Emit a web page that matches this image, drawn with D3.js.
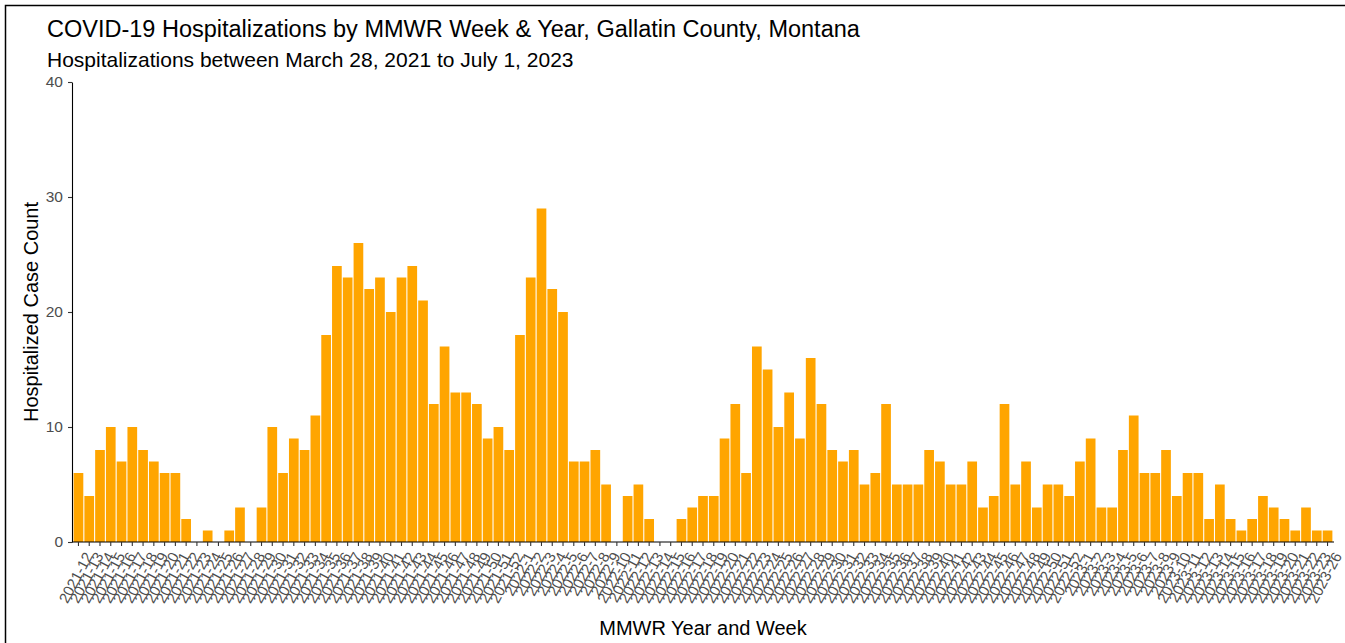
<!DOCTYPE html>
<html>
<head>
<meta charset="utf-8">
<title>COVID-19 Hospitalizations by MMWR Week & Year</title>
<script src="https://cdn.jsdelivr.net/npm/d3@7"></script>
<style>
  html, body { margin: 0; padding: 0; background: #fff; }
  svg { display: block; font-family: "Liberation Sans", Arial, sans-serif; }
</style>
</head>
<body>
<div id="chart"></div>
<script>
// MMWR weeks shown on the x axis
const weeks2021 = [12,13,14,15,16,17,18,19,20,21,22,23,24,25,26,27,28,29,30,31,32,33,34,35,36,37,38,39,40,41,42,43,44,45,46,47,48,49,50,51,52];
const weeks2022 = [1,2,3,4,5,6,7,8,9,10,11,12,13,14,15,16,17,18,19,20,21,22,23,24,25,26,27,28,29,30,31,32,33,34,35,36,37,38,39,40,41,42,43,44,45,46,47,48,49,50,51,52];
const weeks2023 = [1,2,3,4,5,6,7,8,9,10,11,12,13,14,15,16,17,18,19,20,21,22,23,26];

// hospitalized case counts, one per week
const counts = [
  6,4,8,10,7,10,8,7,6,6,2,0,1,0,1,3,0,3,10,6,9,8,11,18,
  24,23,26,22,23,20,23,24,21,12,17,13,13,12,9,10,8,
  18,23,29,22,20,7,7,8,5,0,4,5,2,0,0,2,3,
  4,4,9,12,6,17,15,10,13,9,16,12,8,7,8,5,6,12,5,5,5,8,7,5,5,7,3,
  4,12,5,7,3,5,5,4,7,9,3,3,8,11,6,6,8,4,6,6,2,5,2,1,2,4,3,2,1,3,1,1
];

const yTicks = [0, 10, 20, 30, 40];

const categories = [
  ...weeks2021.map(w => "2021-" + w),
  ...weeks2022.map(w => "2022-" + w),
  ...weeks2023.map(w => "2023-" + w)
];
const data = categories.map((c, i) => ({ week: c, value: counts[i] }));

const W = 1345, H = 643;
const margin = { left: 72, right: 11, top: 82, bottom: 101 };

const svg = d3.select("#chart").append("svg")
  .attr("width", W)
  .attr("height", H);

// outer frame
svg.append("rect")
  .attr("x", 5.5).attr("y", 5.5)
  .attr("width", W - 3).attr("height", H + 10)
  .attr("fill", "none")
  .attr("stroke", "#000")
  .attr("stroke-width", 1.5);

const x = d3.scaleBand()
  .domain(categories)
  .range([margin.left, W - margin.right])
  .paddingInner(0.1)
  .paddingOuter(0.15);

const y = d3.scaleLinear()
  .domain([0, 40])
  .range([H - margin.bottom, margin.top]);

// bars
svg.append("g").selectAll("rect")
  .data(data)
  .enter()
  .append("rect")
  .attr("x", d => x(d.week))
  .attr("y", d => y(d.value))
  .attr("width", x.bandwidth())
  .attr("height", d => y(0) - y(d.value))
  .attr("fill", "#FFA500");

// x axis
const xAxis = svg.append("g")
  .attr("transform", `translate(0,${y(0)})`)
  .call(d3.axisBottom(x).tickSize(4).tickSizeOuter(0).tickPadding(3));
xAxis.select(".domain").attr("stroke", "#000").attr("stroke-width", 1.1)
  .attr("d", `M${margin.left},0H${W - margin.right}`);
xAxis.selectAll(".tick line").attr("stroke", "#333").attr("stroke-width", 1.1);
xAxis.selectAll(".tick text")
  .attr("fill", "#4d4d4d")
  .attr("font-size", 15)
  .attr("text-anchor", "end")
  .attr("dy", "0.35em")
  .attr("transform", "translate(4,8) rotate(-62)");

// y axis
const yAxis = svg.append("g")
  .attr("transform", `translate(${margin.left},0)`)
  .call(d3.axisLeft(y).tickValues(yTicks).tickSize(4).tickSizeOuter(0).tickPadding(5));
yAxis.select(".domain").attr("stroke", "#000").attr("stroke-width", 1.1);
yAxis.selectAll(".tick line").attr("stroke", "#333").attr("stroke-width", 1.1);
yAxis.selectAll(".tick text")
  .attr("fill", "#4d4d4d")
  .attr("font-size", 15.5);

// titles
svg.append("text")
  .attr("x", 47).attr("y", 37)
  .attr("font-size", 23.5)
  .attr("fill", "#000")
  .text("COVID-19 Hospitalizations by MMWR Week & Year, Gallatin County, Montana");

svg.append("text")
  .attr("x", 47).attr("y", 67)
  .attr("font-size", 21)
  .attr("fill", "#000")
  .text("Hospitalizations between March 28, 2021 to July 1, 2023");

svg.append("text")
  .attr("x", (margin.left + W - margin.right) / 2)
  .attr("y", 635)
  .attr("text-anchor", "middle")
  .attr("font-size", 20)
  .attr("fill", "#000")
  .text("MMWR Year and Week");

svg.append("text")
  .attr("transform", `translate(38,${(y(0) + y(40)) / 2}) rotate(-90)`)
  .attr("text-anchor", "middle")
  .attr("font-size", 20)
  .attr("fill", "#000")
  .text("Hospitalized Case Count");
</script>
</body>
</html>
